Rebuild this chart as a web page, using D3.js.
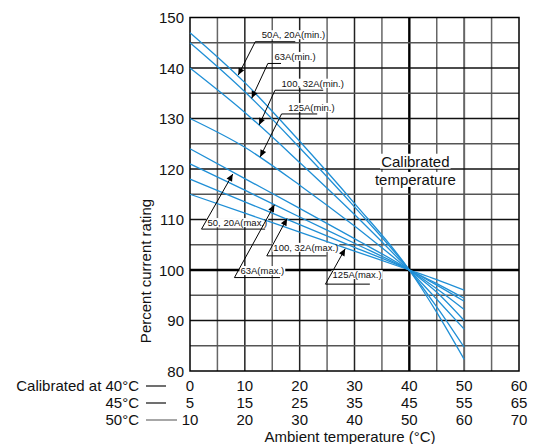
<!DOCTYPE html>
<html><head><meta charset="utf-8">
<script src="https://cdn.jsdelivr.net/npm/d3@7"></script>
<style>
body{margin:0;background:#fff}
svg{display:block}
text{font-family:"Liberation Sans",Arial,Helvetica,sans-serif;fill:#111}
</style>
</head><body>
<svg id="chart" width="537" height="444"></svg>
<script>
// ---------- data ----------
const temps = [0, 10, 20, 30, 40, 45, 50];
const min50A20A = [147, 137.1, 125.5, 113.2, 100, 91.6, 82.3];
const min63A    = [145, 135.3, 124.2, 112.5, 100, 92.7, 84.7];
const min100A32A= [140, 131.2, 121.3, 111.0, 100, 94.2, 88.3];
const min125A   = [130, 124.3, 116.8, 108.7, 100, 95.6, 90.0];
const max50A20A = [124, 118.1, 112.2, 106.2, 100, 96.3, 92.2];
const max63A    = [121, 115.8, 110.5, 105.3, 100, 97.0, 93.8];
const max100A32A= [118, 113.5, 109.0, 104.5, 100, 97.3, 94.4];
const max125A   = [115, 111.25, 107.5, 103.75, 100, 98.1, 96.0];
const seriesList = [min50A20A, min63A, min100A32A, min125A, max50A20A, max63A, max100A32A, max125A];

const yTicks = [80, 90, 100, 110, 120, 130, 140, 150];
const xTicks = [0, 10, 20, 30, 40, 50, 60];
const xLabels40 = ["0", "10", "20", "30", "40", "50", "60"];
const xLabels45 = ["5", "15", "25", "35", "45", "55", "65"];
const xLabels50 = ["10", "20", "30", "40", "50", "60", "70"];
const rowNames = ["Calibrated at 40°C", "45°C", "50°C"];

// callouts: label, text anchor (x,y), leader corner (x,y), underline end x, arrow tip (x,y) in data units
const calloutLabels = ["50A, 20A(min.)", "63A(min.)", "100, 32A(min.)", "125A(min.)",
                       "50, 20A(max.)", "63A(max.)", "100, 32A(max.)", "125A(max.)"];
const calloutText   = [[13.1,145.9],[15.4,141.6],[16.7,136.3],[17.9,131.5],
                       [3.2,108.7],[9.2,99.2],[15.2,103.8],[26.0,98.4]];
const calloutCorner = [[11.9,145.2],[14.2,140.9],[15.5,135.6],[16.7,130.9],
                       [2.1,108.1],[8.1,98.5],[14.0,102.8],[24.7,97.2]];
const calloutEnd    = [19.2, 16.6, 24.3, 23.2, 13.7, 16.4, 24.9, 32.8];
const calloutTip    = [[8.8,138.6],[11.25,134.0],[12.6,128.7],[12.8,122.4],
                       [7.8,119.0],[15.4,112.9],[17.7,110.2],[28.3,104.2]];

// ---------- drawing ----------
const svg = d3.select("#chart");
const x = d3.scaleLinear().domain([0, 60]).range([190, 519]);
const y = d3.scaleLinear().domain([80, 150]).range([371, 17.5]);

svg.append("defs").append("marker")
  .attr("id", "arr").attr("viewBox", "0 0 10 10")
  .attr("refX", 10).attr("refY", 5)
  .attr("markerWidth", 9).attr("markerHeight", 7)
  .attr("markerUnits", "userSpaceOnUse")
  .attr("orient", "auto")
  .append("path").attr("d", "M0,0.5 L10,5 L0,9.5 Z").attr("fill", "#000");

// grid
const grid = svg.append("g");
const hVals = d3.range(85, 150, 5);
const vVals = d3.range(5, 60, 5);
grid.selectAll(".vl").data(vVals).join("line")
  .attr("x1", d => x(d)).attr("x2", d => x(d))
  .attr("y1", y(150)).attr("y2", y(80))
  .attr("stroke", d => d === 40 ? "#000" : (d % 10 === 0 && d !== 50 ? "#222" : "#666"))
  .attr("stroke-width", d => d === 40 ? 2.4 : (d === 50 ? 2 : 1.5));
grid.selectAll(".hl").data(hVals).join("line")
  .attr("x1", x(0)).attr("x2", x(60))
  .attr("y1", d => y(d)).attr("y2", d => y(d))
  .attr("stroke", d => d === 100 ? "#000" : (d % 10 === 0 ? "#111" : "#555"))
  .attr("stroke-width", d => d === 100 ? 2.4 : 1.5);
grid.append("rect")
  .attr("x", x(0)).attr("y", y(150))
  .attr("width", x(60) - x(0)).attr("height", y(80) - y(150))
  .attr("fill", "none").attr("stroke", "#000").attr("stroke-width", 1.5);

// white-backed text helper
const bgLayer = svg.append("g");
const lineLayer = svg.append("g");
const annLayer = svg.append("g");
function boxedText(g, tx, ty, str, size, anchor) {
  const t = g.append("text").attr("x", tx).attr("y", ty)
    .attr("font-size", size).attr("text-anchor", anchor || "start").text(str);
  const b = t.node().getBBox();
  bgLayer.append("rect").attr("x", b.x - 1).attr("y", b.y + 1)
    .attr("width", b.width + 2).attr("height", b.height - 2).attr("fill", "#fff");
  return t;
}

// calibrated temperature label
boxedText(annLayer, x(41.1), y(120.45), "Calibrated", 15, "middle");
boxedText(annLayer, x(41.1), y(116.85), "temperature", 15, "middle");

// curves
const line = d3.line().x((d, i) => x(temps[i])).y(d => y(d)).curve(d3.curveMonotoneX);
lineLayer.selectAll("path").data(seriesList).join("path")
  .attr("d", line).attr("fill", "none")
  .attr("stroke", "#1f8fd6").attr("stroke-width", 1.3);

// callouts
calloutLabels.forEach((lab, i) => {
  boxedText(annLayer, x(calloutText[i][0]), y(calloutText[i][1]), lab, 9.5);
  const cx = x(calloutCorner[i][0]), cy = y(calloutCorner[i][1]);
  annLayer.append("line").attr("x1", cx).attr("y1", cy)
    .attr("x2", x(calloutEnd[i])).attr("y2", cy)
    .attr("stroke", "#000").attr("stroke-width", 1);
  annLayer.append("line").attr("x1", cx).attr("y1", cy)
    .attr("x2", x(calloutTip[i][0])).attr("y2", y(calloutTip[i][1]))
    .attr("stroke", "#000").attr("stroke-width", 1)
    .attr("marker-end", "url(#arr)");
});

// y axis labels
svg.append("g").selectAll("text").data(yTicks).join("text")
  .attr("x", 184).attr("y", d => y(d) + 5.5)
  .attr("text-anchor", "end").attr("font-size", 15).text(d => d);
svg.append("text")
  .attr("transform", "translate(151,271) rotate(-90)")
  .attr("text-anchor", "middle").attr("font-size", 15)
  .text("Percent current rating");

// x axis label rows
const rows = [xLabels40, xLabels45, xLabels50];
const rowY = [391, 408, 425];
rows.forEach((labs, r) => {
  svg.append("g").selectAll("text").data(labs).join("text")
    .attr("x", (d, i) => x(xTicks[i])).attr("y", rowY[r])
    .attr("text-anchor", "middle").attr("font-size", 15).text(d => d);
  svg.append("text").attr("x", 139).attr("y", rowY[r])
    .attr("text-anchor", "end").attr("font-size", 15).text(rowNames[r]);
  svg.append("line").attr("x1", 146).attr("x2", r === 2 ? 177 : 166)
    .attr("y1", rowY[r] - 5).attr("y2", rowY[r] - 5)
    .attr("stroke", r === 2 ? "#777" : "#222").attr("stroke-width", 1.3);
});
svg.append("text").attr("x", 350).attr("y", 442)
  .attr("text-anchor", "middle").attr("font-size", 15)
  .text("Ambient temperature (°C)");
</script>
</body></html>
